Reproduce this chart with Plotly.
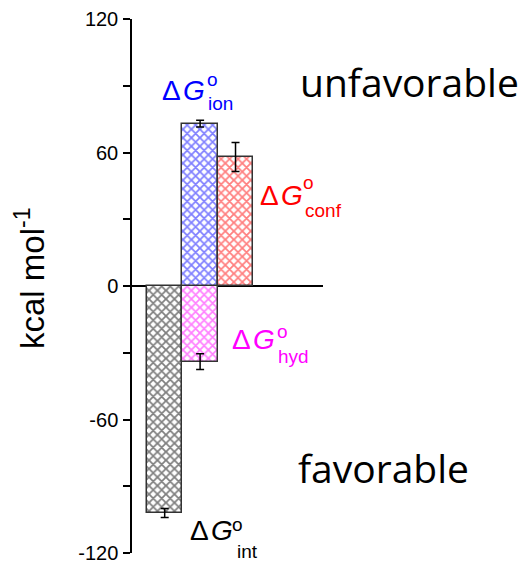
import plotly.graph_objects as go

# ---- data ----
categories = ["int", "hyd", "ion", "conf"]
x_pos = [1, 2, 2, 3]
values = [-102, -34, 73, 58]
errors = [2, 3.5, 1.5, 6.5]
colors = ["black", "#ff00ff", "#0000ff", "#ff0000"]
tick_vals = [-120, -60, 0, 60, 120]
tick_text = ["-120", "-60", "0", "60", "120"]

# page is rendered with an 8px body margin
OFF = 8
W, H = 531 - OFF, 567 - OFF
L, R, T, B = 132, 323, 19, 553   # plot area in page pixels

fig = go.Figure()
for cat, x, v, e, c in zip(categories, x_pos, values, errors, colors):
    fig.add_trace(go.Bar(
        x=[x], y=[v], width=1, name=cat,
        marker=dict(color="white",
                    line=dict(color="#333333", width=1.5),
                    pattern=dict(shape="x", fgcolor=c, bgcolor="white",
                                 size=6, solidity=0.5, fillmode="overlay")),
        error_y=dict(type="data", array=[e], color="black", thickness=1.5, width=4),
        showlegend=False,
    ))


def px(x):
    return (x - L) / (R - L)


def py(y):
    return (B - y) / (B - T)


ann = []
SANS = "Liberation Sans, Arial, sans-serif"


def label(text_color, x0, y0, xo, yo, xs, ys, sub):
    ann.append(dict(text="Δ\u200a<i>G</i>", x=px(x0), y=py(y0), xref="paper", yref="paper",
                    xanchor="left", yanchor="middle", showarrow=False,
                    font=dict(family=SANS, size=28, color=text_color)))
    ann.append(dict(text="o", x=px(xo), y=py(yo), xref="paper", yref="paper",
                    xanchor="left", yanchor="middle", showarrow=False,
                    font=dict(family=SANS, size=19, color=text_color)))
    ann.append(dict(text=sub, x=px(xs), y=py(ys), xref="paper", yref="paper",
                    xanchor="left", yanchor="middle", showarrow=False,
                    font=dict(family=SANS, size=19, color=text_color)))


label("#0000ff", 160, 90, 205, 80, 206, 104, "ion")
label("#ff0000", 258, 195, 301, 183, 303, 210, "conf")
label("#ff00ff", 230, 339, 275, 331, 276, 356, "hyd")
label("black", 188, 530, 230, 524, 235, 551, "int")

ann.append(dict(text="unfavorable", x=px(298), y=py(82), xref="paper", yref="paper",
                xanchor="left", yanchor="middle", showarrow=False,
                font=dict(family="Open Sans, sans-serif", size=39, color="black")))
ann.append(dict(text="favorable", x=px(296), y=py(467), xref="paper", yref="paper",
                xanchor="left", yanchor="middle", showarrow=False,
                font=dict(family="Open Sans, sans-serif", size=39, color="black")))
ann.append(dict(text="kcal mol<sup>-1</sup>", x=px(30), y=py(278), xref="paper", yref="paper",
                xanchor="center", yanchor="middle", showarrow=False, textangle=-90,
                font=dict(family=SANS, size=33, color="black")))

fig.update_layout(
    width=W, height=H,
    margin=dict(l=L - OFF, r=W - (R - OFF), t=T - OFF, b=H - (B - OFF), pad=0,
                autoexpand=False),
    paper_bgcolor="white", plot_bgcolor="white",
    barmode="overlay", bargap=0,
    annotations=ann,
    font=dict(family=SANS, color="black"),
)
fig.update_xaxes(range=[0.077, 5.47], visible=False, showgrid=False, zeroline=False,
                 automargin=False)
fig.update_yaxes(range=[-120, 120], tickvals=tick_vals, ticktext=tick_text,
                 ticks="outside", ticklen=7, tickwidth=1.5, tickcolor="black",
                 showline=True, linecolor="black", linewidth=1.5,
                 showgrid=False, zeroline=True, zerolinecolor="black", zerolinewidth=1.5,
                 tickfont=dict(family=SANS, size=20, color="black"),
                 minor=dict(tickvals=[-90, -30, 30, 90], ticks="outside", ticklen=7,
                            tickwidth=1.5, tickcolor="black"),
                 ticklabelstandoff=1, automargin=False)

fig.write_html("out.html")
